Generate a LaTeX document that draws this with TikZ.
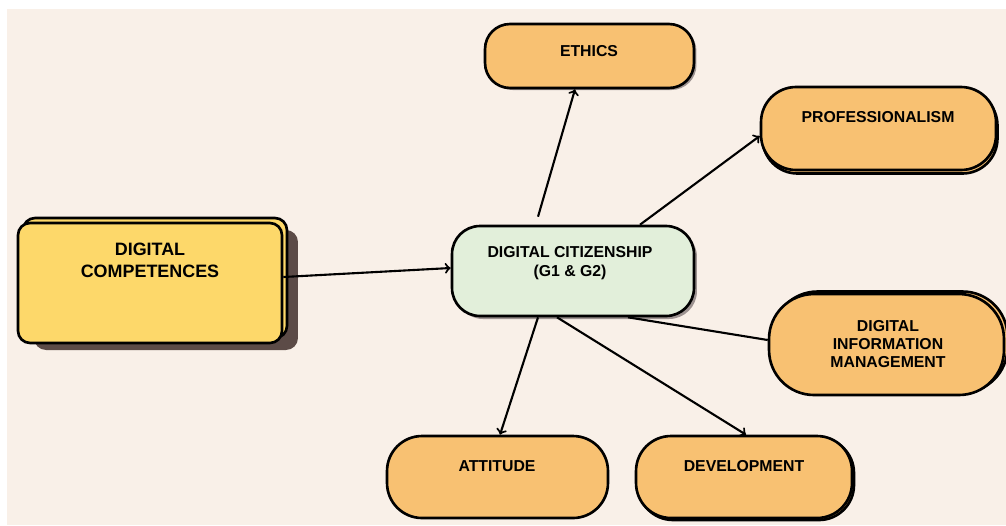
\documentclass[tikz,border=0pt]{standalone}
\usepackage{fontspec}
\setmainfont{Liberation Sans}
\usetikzlibrary{positioning}
\usetikzlibrary{calc}
\usetikzlibrary{arrows}

\definecolor{bgcream}{HTML}{F9F0E8}
\definecolor{compyellow}{HTML}{FDD86A}
\definecolor{citgreen}{HTML}{E2EFDA}
\definecolor{areaorange}{HTML}{F8C172}
\definecolor{shadowbrown}{HTML}{5C4B47}

\tikzset{
        every path/.style={thick},
        box/.style={draw=black,line width=1.5pt,inner sep=0pt},
        area/.style={box,fill=areaorange,rounded corners=0.7cm},
        txt/.style={font=\bfseries\fontsize{9}{10.5}\selectfont,align=center},
        link/.style={->,line width=1.2pt},
        }

\begin{document}
\begin{tikzpicture}[x=0.02cm,y=-0.02cm]

		\useasboundingbox (0,0) rectangle (1006,525);

		% background..................
		\fill [bgcream] (7,9) rectangle (1006,525);

		% DIGITAL COMPETENCES box.....................
		\node [fill=shadowbrown,rounded corners=0.24cm,minimum width=5.28cm,minimum height=2.4cm] (comp-shadow) at (166,290) {};
		\node [box,fill=compyellow,rounded corners=0.24cm,minimum width=5.28cm,minimum height=2.4cm] (comp-back) at (155,278) {};
		\node [box,fill=compyellow,rounded corners=0.24cm,minimum width=5.28cm,minimum height=2.4cm] (comp) at (150,283) {};
		\node [txt,font=\bfseries\fontsize{10.2}{12.5}\selectfont] (comp-t) at (150,260) {DIGITAL\\COMPETENCES};

		% DIGITAL CITIZENSHIP box......................
		\node [fill=shadowbrown!60,rounded corners=0.56cm,minimum width=4.84cm,minimum height=1.8cm] (cit-shadow) at (576,274) {};
		\node [box,fill=citgreen,rounded corners=0.56cm,minimum width=4.84cm,minimum height=1.8cm] (cit) at (573,271) {};
		\node [txt,font=\bfseries\fontsize{9}{10.8}\selectfont] (cit-t) at (570,263) {DIGITAL CITIZENSHIP\\(G1 \& G2)};

		% ETHICS box...................
		\node [area,fill=shadowbrown!60,draw=none,rounded corners=0.5cm,minimum width=4.18cm,minimum height=1.28cm] (eth-back) at (592,58) {};
		\node [area,rounded corners=0.5cm,minimum width=4.18cm,minimum height=1.28cm] (eth) at (589.5,56) {};
		\node [txt] (eth-t) at (589,51) {ETHICS};

		% PROFESSIONALISM box...................
		\node [area,minimum width=4.7cm,minimum height=1.66cm] (prof-back) at (880,132) {};
		\node [area,minimum width=4.7cm,minimum height=1.66cm] (prof) at (878.5,128.5) {};
		\node [txt] (prof-t) at (878,117) {PROFESSIONALISM};

		% DIGITAL INFORMATION MANAGEMENT box...................
		\node [area,rounded corners=0.9cm,minimum width=4.7cm,minimum height=2.02cm] (dim-back) at (890,342) {};
		\node [area,rounded corners=0.9cm,minimum width=4.7cm,minimum height=2.02cm] (dim) at (886.5,344.5) {};
		\node [txt] (dim-t) at (888,344) {DIGITAL\\INFORMATION\\MANAGEMENT};

		% ATTITUDE box...................
		\node [area,minimum width=4.42cm,minimum height=1.64cm] (att) at (497.5,477) {};
		\node [txt] (att-t) at (497,466) {ATTITUDE};

		% DEVELOPMENT box...................
		\node [area,minimum width=4.32cm,minimum height=1.64cm] (dev-back) at (746,479) {};
		\node [area,minimum width=4.32cm,minimum height=1.64cm] (dev) at (744,477) {};
		\node [txt] (dev-t) at (744,466) {DEVELOPMENT};

		% links..............................
		\draw [link] ([yshift=0.12cm]comp.east) to ([yshift=0.06cm]cit.west);
		\draw [link] ([xshift=-0.7cm,yshift=0.16cm]cit.north) to ([xshift=-0.29cm]eth.south);
		\draw [link] ([xshift=1.34cm]cit.north) to ([yshift=-0.15cm]prof.west);
		\draw [line width=1.2pt] ([xshift=1.1cm]cit.south) to ([yshift=0.09cm]dim.west);
		\draw [link] ([xshift=-0.7cm]cit.south) to ([xshift=0.05cm]att.north);
		\draw [link] ([xshift=-0.32cm]cit.south) to ([xshift=0.04cm]dev.north);

	\end{tikzpicture}
\end{document}
